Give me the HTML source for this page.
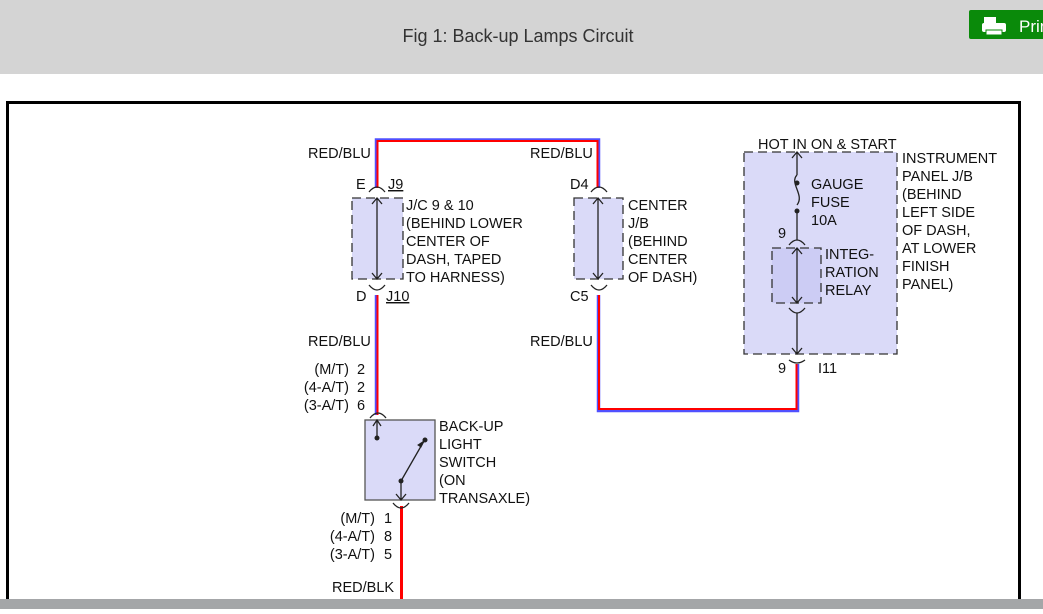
<!DOCTYPE html>
<html><head><meta charset="utf-8"><style>
body{margin:0;width:1043px;height:609px;overflow:hidden;background:#fff;font-family:"Liberation Sans",sans-serif}
</style></head><body>
<svg width="1043" height="609" xmlns="http://www.w3.org/2000/svg" font-family="Liberation Sans, sans-serif">
<rect x="0" y="0" width="1043" height="74" fill="#d4d4d4"/>
<text x="518" y="42" font-size="18" text-anchor="middle" fill="#333">Fig 1: Back-up Lamps Circuit</text>
<rect x="969" y="10" width="80" height="29" rx="2" fill="#0a8a0a"/>
<rect x="984" y="17" width="12" height="6" fill="#fff"/>
<rect x="982" y="23" width="24" height="9" rx="2" fill="#fff"/>
<rect x="986" y="30" width="16" height="5" fill="#fff" stroke="#0a8a0a"/>
<text x="1019" y="32" font-size="17" fill="#fff">Prin</text>
<rect x="7.5" y="102.5" width="1012" height="520" fill="none" stroke="#000" stroke-width="3"/>
<g fill="#dadaf8" stroke="#333" stroke-width="1.3" stroke-dasharray="9,5">
<rect x="744" y="152" width="153" height="202"/>
<rect x="352" y="198" width="51" height="81"/>
<rect x="574" y="198" width="49" height="81"/>
<rect x="772" y="248" width="49" height="55" fill="#ccccf4"/>
</g>
<rect x="365" y="420" width="70" height="80" fill="#dadaf8" stroke="#555" stroke-width="1.3"/>
<g fill="none" stroke-linejoin="miter">
<path d="M376.5 188 V140 H598.5 V188" stroke="#5050ff" stroke-width="3.5"/>
<path d="M377.5 188 V141 H597.5 V188" stroke="#f00" stroke-width="2"/>
<path d="M376.5 295 V415" stroke="#5050ff" stroke-width="3.5"/>
<path d="M377.5 295 V415" stroke="#f00" stroke-width="2"/>
<path d="M598.5 295 V410.5 H797.5 V364" stroke="#5050ff" stroke-width="3.5"/>
<path d="M599 295 V409 H796.5 V364" stroke="#f00" stroke-width="2"/>
<path d="M401.5 506 V609" stroke="#f00" stroke-width="3"/>
</g>
<g fill="none" stroke="#222" stroke-width="1.3">
<path d="M369 192 q8 -10 16 0"/><path d="M369 285 q8 10 16 0"/>
<path d="M591 192 q8 -10 16 0"/><path d="M591 285 q8 10 16 0"/>
<path d="M789 245 q8 -10 16 0"/><path d="M789 308 q8 10 16 0"/>
<path d="M789 360 q8 6 16 0"/>
<path d="M370 418 q8 -10 16 0"/><path d="M393 503 q8 10 16 0"/>
<path d="M377 198 V279 M372 204 L377 198 L382 204 M372 273 L377 279 L382 273"/>
<path d="M598 198 V279 M593 204 L598 198 L603 204 M593 273 L598 279 L603 273"/>
<path d="M797 152 V175 M792 158 L797 152 L802 158"/>
<path d="M797 213 V240 M797 175 c-8 8 8 20 0 30"/>
<path d="M797 248 V303 M792 254 L797 248 L802 254 M792 297 L797 303 L802 297"/>
<path d="M797 313 V354 M792 348 L797 354 L802 348"/>
<path d="M377 420 V437 M373 426 L377 420 L381 426"/>
<path d="M401 481 V500 M396 494 L401 500 L406 494"/>
<path d="M401 481 L424 441"/>
</g>
<path d="M424 441 l-6 4 l3 2 z" fill="#222" stroke="#222"/>
<g fill="#222"><circle cx="797" cy="183" r="2.5"/><circle cx="797" cy="211" r="2.5"/>
<circle cx="377" cy="438" r="2.5"/><circle cx="425" cy="440" r="2.5"/><circle cx="401" cy="481" r="2.5"/></g>
<g font-size="14.5" fill="#111">
<text x="308" y="158">RED/BLU</text>
<text x="530" y="158">RED/BLU</text>
<text x="308" y="346">RED/BLU</text>
<text x="530" y="346">RED/BLU</text>
<text x="356" y="189">E</text><text x="388" y="189" text-decoration="underline">J9</text>
<text x="356" y="301">D</text><text x="386" y="301" text-decoration="underline">J10</text>
<text x="570" y="189">D4</text><text x="570" y="301">C5</text>
<text x="406" y="210">J/C 9 &amp; 10</text>
<text x="406" y="228">(BEHIND LOWER</text>
<text x="406" y="246">CENTER OF</text>
<text x="406" y="264">DASH, TAPED</text>
<text x="406" y="282">TO HARNESS)</text>
<text x="628" y="210">CENTER</text><text x="628" y="228">J/B</text><text x="628" y="246">(BEHIND</text><text x="628" y="264">CENTER</text><text x="628" y="282">OF DASH)</text>
<text x="758" y="149">HOT IN ON &amp; START</text>
<text x="902" y="163">INSTRUMENT</text><text x="902" y="181">PANEL J/B</text><text x="902" y="199">(BEHIND</text><text x="902" y="217">LEFT SIDE</text><text x="902" y="235">OF DASH,</text><text x="902" y="253">AT LOWER</text><text x="902" y="271">FINISH</text><text x="902" y="289">PANEL)</text>
<text x="811" y="189">GAUGE</text><text x="811" y="207">FUSE</text><text x="811" y="225">10A</text>
<text x="778" y="238">9</text>
<text x="825" y="259">INTEG-</text><text x="825" y="277">RATION</text><text x="825" y="295">RELAY</text>
<text x="778" y="373">9</text><text x="818" y="373">I11</text>
<text x="349" y="374" text-anchor="end">(M/T)</text><text x="357" y="374">2</text>
<text x="349" y="392" text-anchor="end">(4-A/T)</text><text x="357" y="392">2</text>
<text x="349" y="410" text-anchor="end">(3-A/T)</text><text x="357" y="410">6</text>
<text x="439" y="431">BACK-UP</text><text x="439" y="449">LIGHT</text><text x="439" y="467">SWITCH</text><text x="439" y="485">(ON</text><text x="439" y="503">TRANSAXLE)</text>
<text x="375" y="523" text-anchor="end">(M/T)</text><text x="384" y="523">1</text>
<text x="375" y="541" text-anchor="end">(4-A/T)</text><text x="384" y="541">8</text>
<text x="375" y="559" text-anchor="end">(3-A/T)</text><text x="384" y="559">5</text>
<text x="332" y="592">RED/BLK</text>
</g>
<rect x="0" y="599" width="1043" height="10" fill="#a4a6a8"/>
</svg>
</body></html>
